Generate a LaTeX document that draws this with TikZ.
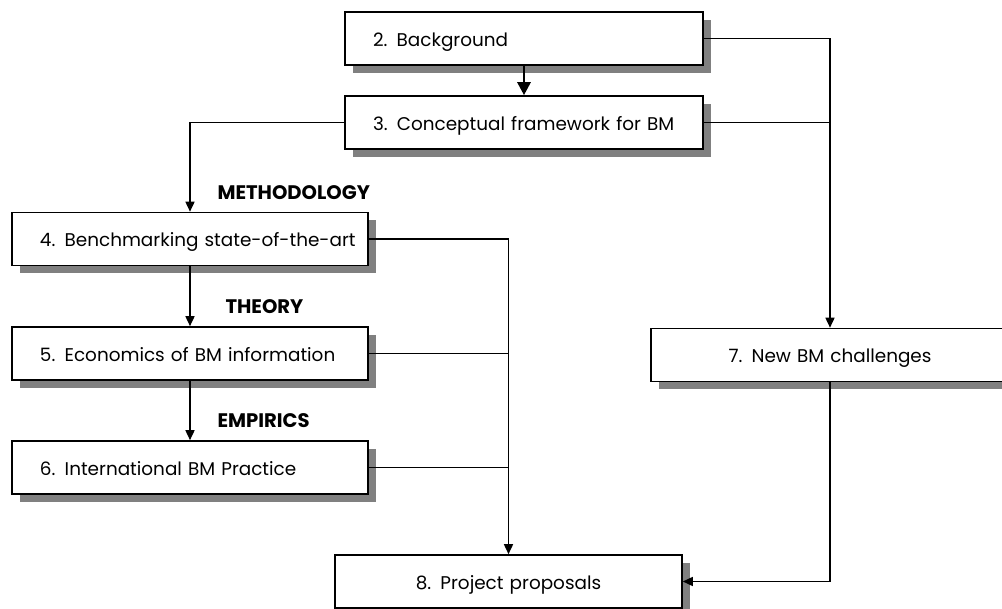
\documentclass[tikz,border=0pt]{standalone}
\usepackage{fontspec}
\setmainfont{Poppins}
\usetikzlibrary{positioning,arrows.meta,shadows}

\begin{document}
\begin{tikzpicture}[x=1pt,y=-1pt,
  font=\fontsize{18.4}{22}\selectfont,
  box/.style={draw,line width=1.6pt,fill=white,minimum height=53pt,inner ysep=0pt,
    text height=16pt,text depth=0pt,
    drop shadow={shadow xshift=8pt,shadow yshift=-8pt,fill=black!50,opacity=1}},
  lbox/.style={box,inner xsep=0pt,text width=358pt,align=left,execute at begin node={\hspace*{28pt}}},
  cbox/.style={box,inner xsep=28pt,text width=302pt,align=center},
  arr/.style={-{Triangle[length=10pt,width=9pt]},line width=1.6pt},
  link/.style={line width=1.6pt},
  lbl/.style={font=\fontsize{19.6}{22}\selectfont\bfseries,anchor=west},
]
\useasboundingbox (0,0) rectangle (1002,609);
\clip (0,0) rectangle (1002,609);

% top row
\node[lbox] (bg) at (524,38.5)  {2. Background};
\node[lbox] (cf) at (524,122.5) {3. Conceptual framework for BM};

% left column
\node[lbox,text width=356pt] (bench) at (190,239)   {4. Benchmarking state-of-the-art};
\node[lbox,text width=356pt] (econ)  at (190,353.5) {5. Economics of BM information};
\node[lbox,text width=356pt] (intl)  at (190,467.5) {6. International BM Practice};

% right and bottom
\node[cbox] (nbc) at (830,355)   {7. New BM challenges};
\node[cbox,text width=291pt] (pp) at (508.5,581.5) {8. Project proposals};

\node[lbl] (meth) at (214,193) {METHODOLOGY};
\node[lbl] (theo) at (222,307) {THEORY};
\node[lbl] (emp)  at (214,421) {EMPIRICS};

\draw[-{Triangle[length=13pt,width=13pt]},line width=2.8pt] (bg) -- (cf);
\draw[arr] (cf.west) -| (bench);
\draw[arr] (bench) -- (econ);
\draw[arr] (econ) -- (intl);
\draw[arr] (bg.east) -| (nbc);
\draw[link] (cf.east) -- (cf.east -| nbc);
\draw[arr] (bench.east) -| (pp);
\draw[link] (econ.east) -- (econ.east -| pp);
\draw[link] (intl.east) -- (intl.east -| pp);
\draw[arr] (nbc.south) |- (pp.east);
\end{tikzpicture}
\end{document}
